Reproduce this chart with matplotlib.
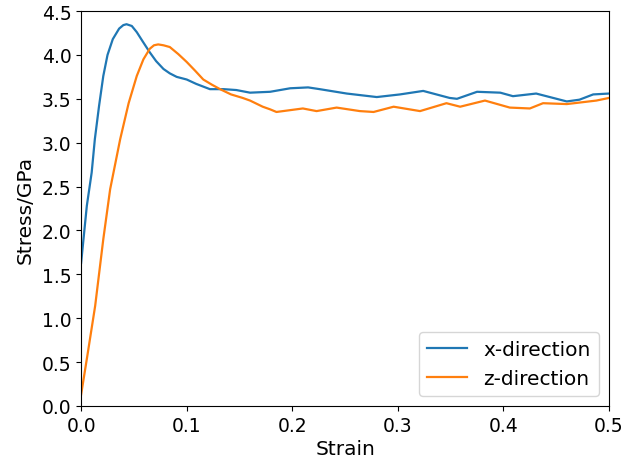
import matplotlib
matplotlib.use("Agg")
import matplotlib.pyplot as plt

# Stress-strain response along x and z
strain_x = [0.0, 0.0054, 0.010, 0.013, 0.017, 0.021, 0.025, 0.030, 0.036, 0.040,
            0.043, 0.048, 0.0527, 0.058, 0.065, 0.071, 0.078, 0.084, 0.0905, 0.100,
            0.109, 0.122, 0.135, 0.147, 0.160, 0.179, 0.198, 0.215, 0.226,
            0.2516, 0.280, 0.302, 0.324, 0.349, 0.356, 0.375, 0.397, 0.409, 0.431,
            0.460, 0.472, 0.485, 0.500]
stress_x = [1.63, 2.28, 2.66, 3.04, 3.42, 3.76, 4.00, 4.18, 4.30, 4.34,
            4.35, 4.33, 4.26, 4.16, 4.03, 3.93, 3.84, 3.79, 3.75, 3.72,
            3.67, 3.61, 3.61, 3.60, 3.57, 3.58, 3.62, 3.63, 3.61,
            3.56, 3.52, 3.55, 3.59, 3.51, 3.50, 3.58, 3.57, 3.53, 3.56,
            3.47, 3.49, 3.55, 3.56]

strain_z = [0.0, 0.006, 0.0133, 0.021, 0.0275, 0.037, 0.045, 0.0527, 0.059, 0.065,
            0.069, 0.073, 0.078, 0.084, 0.092, 0.100, 0.108, 0.1157, 0.124, 0.1316,
            0.142, 0.153, 0.160, 0.172, 0.179, 0.185, 0.210,
            0.223, 0.242, 0.264, 0.277, 0.296, 0.321, 0.346, 0.359, 0.3825,
            0.406, 0.425, 0.4375, 0.460, 0.488, 0.500]
stress_z = [0.13, 0.58, 1.14, 1.90, 2.47, 3.04, 3.45, 3.76, 3.95, 4.07,
            4.11, 4.12, 4.11, 4.09, 4.01, 3.92, 3.82, 3.72, 3.66, 3.61,
            3.55, 3.51, 3.48, 3.41, 3.38, 3.35, 3.39,
            3.36, 3.40, 3.36, 3.35, 3.41, 3.36, 3.45, 3.41, 3.48,
            3.40, 3.39, 3.45, 3.44, 3.48, 3.51]

plt.rcParams['font.size'] = 13.5

fig, ax = plt.subplots(figsize=(6.24, 4.64), dpi=100)
fig.subplots_adjust(left=0.13, right=0.976, bottom=0.123, top=0.974)

ax.plot(strain_x, stress_x, color='#1f77b4', linewidth=1.6, label='x-direction')
ax.plot(strain_z, stress_z, color='#ff7f0e', linewidth=1.6, label='z-direction')

ax.set_xlim(0, 0.5)
ax.set_ylim(0, 4.5)
ax.set_xticks([0.0, 0.1, 0.2, 0.3, 0.4, 0.5])
ax.set_yticks([0.0, 0.5, 1.0, 1.5, 2.0, 2.5, 3.0, 3.5, 4.0, 4.5])
ax.set_xlabel("Strain", fontsize=14.5, labelpad=3)
ax.set_ylabel("Stress/GPa", fontsize=14.5, labelpad=5)
ax.legend(loc='lower right', fontsize=14.5)

plt.savefig("out.png", dpi=100)
plt.close()
